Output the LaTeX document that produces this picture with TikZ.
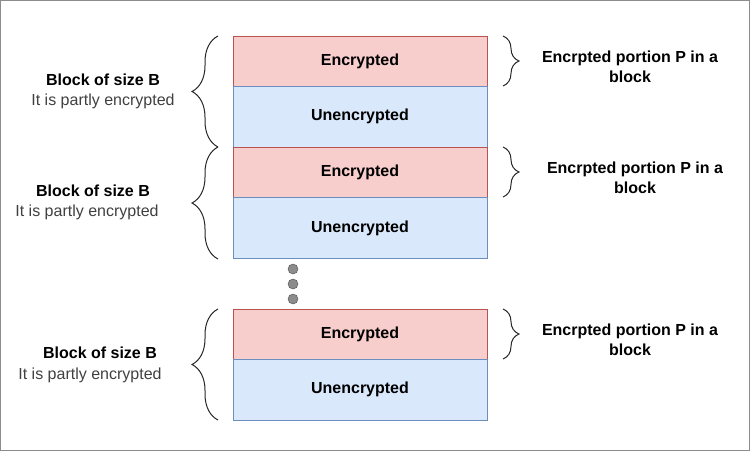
\documentclass[tikz,border=0pt]{standalone}
\usepackage{fontspec}
\setmainfont{Liberation Sans}
\usetikzlibrary{decorations.pathreplacing}
\definecolor{encf}{HTML}{F8CECC}\definecolor{encd}{HTML}{B85450}
\definecolor{unf}{HTML}{DAE8FC}\definecolor{und}{HTML}{6C8EBF}
\begin{document}
\begin{tikzpicture}[x=1pt,y=-1pt,
 enc/.style={draw=encd,fill=encf,minimum width=254pt,minimum height=50pt,inner sep=0,font=\fontsize{16}{19}\selectfont\bfseries},
 unenc/.style={draw=und,fill=unf,minimum width=254pt,minimum height=61pt,inner sep=0,font=\fontsize{16}{19}\selectfont\bfseries},
 lbr/.style={decorate,decoration={brace,amplitude=26pt},draw=black!85,line width=1pt},
 rbr/.style={decorate,decoration={brace,amplitude=16pt},draw=black!85,line width=1pt},
 bt/.style={font=\fontsize{16}{20}\selectfont\bfseries,align=center},
 nt/.style={font=\fontsize{16}{19}\selectfont,text=black!75},
 dot/.style={circle,draw=black!70,fill=black!45,minimum size=10pt,inner sep=0}]
\path[use as bounding box,draw=black!45,line width=1.2pt] (0.6,0.6) rectangle (749.4,450.4);
\node[enc] (e1) at (360,61) {Encrypted};
\node[unenc] (u1) at (360,116.5) {Unencrypted};
\node[enc] (e2) at (360,172) {Encrypted};
\node[unenc] (u2) at (360,228) {Unencrypted};
\node[enc] (e3) at (360,334) {Encrypted};
\node[unenc] (u3) at (360,389.5) {Unencrypted};
\node[dot] (d1) at (293,269) {};
\node[dot] (d2) at (293,284) {};
\node[dot] (d3) at (293,299) {};
\draw[lbr] (218,147) -- (218,36);
\draw[lbr] (218,259) -- (218,147);
\draw[lbr] (218,420) -- (218,309);
\draw[rbr] (503,36) -- (503,86);
\draw[rbr] (503,147) -- (503,197);
\draw[rbr] (503,309) -- (503,359);
\node[bt] (b1) at (103,80) {Block of size B};
\node[nt] (t1) at (103,101) {It is partly encrypted};
\node[bt] (b2) at (93,191) {Block of size B};
\node[nt] (t2) at (87,212) {It is partly encrypted};
\node[bt] (b3) at (100,353) {Block of size B};
\node[nt] (t3) at (90,375) {It is partly encrypted};
\node[bt] (r1) at (630,67) {Encrpted portion P in a\\block};
\node[bt] (r2) at (635,178) {Encrpted portion P in a\\block};
\node[bt] (r3) at (630,340) {Encrpted portion P in a\\block};
\end{tikzpicture}
\end{document}
